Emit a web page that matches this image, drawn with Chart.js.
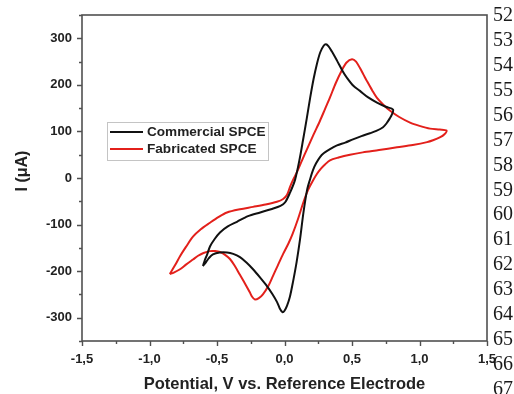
<!DOCTYPE html>
<html>
<head>
<meta charset="utf-8">
<title>CV comparison</title>
<script src="https://cdn.jsdelivr.net/npm/chart.js@4.4.0/dist/chart.umd.min.js"></script>
<style>
  html, body { margin: 0; padding: 0; background: #fff; }
  #wrap { position: relative; width: 514px; height: 394px; }
</style>
</head>
<body>
<div id="wrap"><canvas id="cvChart" width="514" height="394"></canvas></div>
<script>
// Cyclic voltammograms - potential (V) and current (uA), one closed loop each

const commercialE = [
  -0.604, -0.59, -0.574, -0.552, -0.52, -0.478, -0.42, -0.352, -0.27, -0.18, -0.1, -0.03, 0.005, 0.04,
  0.078, 0.115, 0.137, 0.165, 0.19, 0.215, 0.24, 0.265, 0.29, 0.307, 0.325, 0.35, 0.389, 0.43, 0.463,
  0.51, 0.559, 0.62, 0.685, 0.75, 0.804,
  0.795, 0.78, 0.755, 0.73, 0.68, 0.633, 0.57, 0.507, 0.45, 0.389, 0.337, 0.29, 0.263, 0.235, 0.211,
  0.19, 0.167, 0.14, 0.115, 0.09, 0.063, 0.04, 0.019, 0.0, -0.015, -0.035, -0.056, -0.09, -0.13, -0.18,
  -0.233, -0.28, -0.33, -0.38, -0.426, -0.48, -0.53, -0.56, -0.58, -0.604
];
const commercialI = [
  -189, -176, -165, -147, -132, -117, -104, -94, -82, -74, -67, -60, -52, -32,
  -4, 45, 81, 128, 172, 212, 245, 270, 284, 287, 283, 272, 252, 230, 215,
  198, 187, 173, 162, 153, 147,
  136, 128, 117, 109, 101, 96, 90, 83, 76, 70, 62, 53, 45, 32, 17,
  -2, -26, -75, -132, -180, -223, -255, -274, -285, -288, -280, -266, -249, -232, -214,
  -196, -182, -170, -163, -160, -160, -164, -172, -180, -189
];

const fabricatedE = [
  -0.85, -0.81, -0.774, -0.73, -0.678, -0.62, -0.552, -0.49, -0.426, -0.33, -0.233, -0.14, -0.056, -0.01,
  0.019, 0.041, 0.065, 0.093, 0.13, 0.167, 0.215, 0.263, 0.3, 0.337, 0.38, 0.426, 0.46, 0.5, 0.53,
  0.559, 0.585, 0.611, 0.65, 0.685, 0.73, 0.78, 0.85, 0.93, 1.0, 1.078, 1.15, 1.2,
  1.185, 1.15, 1.1, 1.056, 0.95, 0.833, 0.7, 0.58, 0.485, 0.4, 0.337, 0.3, 0.27, 0.241, 0.21,
  0.174, 0.14, 0.1, 0.06, 0.03, -0.01, -0.05, -0.085, -0.12, -0.16, -0.19, -0.219, -0.24, -0.256,
  -0.29, -0.33, -0.37, -0.404, -0.44, -0.478, -0.515, -0.552, -0.6, -0.64, -0.678, -0.73, -0.774,
  -0.82, -0.85
];
const fabricatedI = [
  -206, -187, -168, -148, -126, -110, -96, -84, -74, -67, -62, -57, -51, -45,
  -36, -19, -3, 13, 38, 62, 93, 123, 148, 173, 204, 232, 248, 255, 250,
  236, 222, 208, 188, 172, 158, 145, 131, 119, 112, 106, 104, 102,
  94, 87, 81, 77, 71, 66, 60, 55, 50, 44, 38, 29, 20, 9, -6,
  -26, -52, -88, -120, -140, -163, -188, -210, -232, -250, -258, -261, -255, -246,
  -228, -208, -188, -174, -165, -159, -157, -157, -161, -167, -175, -186, -196,
  -203, -206
];

const seriesNames = ['Commercial SPCE', 'Fabricated SPCE'];

const xTickValues = [-1.5, -1.0, -0.5, 0.0, 0.5, 1.0, 1.5];
const xTickLabels = ['-1,5', '-1,0', '-0,5', '0,0', '0,5', '1,0', '1,5'];
const yTickValues = [-300, -200, -100, 0, 100, 200, 300];
const yTickLabels = ['-300', '-200', '-100', '0', '100', '200', '300'];

// manuscript line numbers printed down the right margin
const lineNumbers = ['52', '53', '54', '55', '56', '57', '58', '59', '60', '61', '62', '63', '64', '65', '66', '67'];

const axisColor = '#505050';
const textColor = '#222';
const tickFont = { family: "'Liberation Sans', Arial, sans-serif", size: 13, weight: 'bold' };

function toPoints(xs, ys) {
  return xs.map((x, i) => ({ x: x, y: ys[i] }));
}

function labelFor(values, labels, v) {
  const i = values.findIndex(t => Math.abs(t - v) < 1e-6);
  return i >= 0 ? labels[i] : '';
}

// frame, outward ticks, y title, boxed legend and margin numbers
const decorations = {
  id: 'decorations',
  afterDatasetsDraw(chart) {
    const { ctx, chartArea: a, scales: { x, y } } = chart;
    ctx.save();

    ctx.strokeStyle = axisColor;
    ctx.lineWidth = 1.6;
    ctx.strokeRect(a.left, a.top, a.right - a.left, a.bottom - a.top);

    ctx.beginPath();
    x.ticks.forEach(t => {
      const px = Math.round(x.getPixelForValue(t.value)) + 0.5;
      const len = labelFor(xTickValues, xTickLabels, t.value) ? 5 : 3;
      ctx.moveTo(px, a.bottom);
      ctx.lineTo(px, a.bottom + len);
    });
    y.ticks.forEach(t => {
      const py = Math.round(y.getPixelForValue(t.value)) + 0.5;
      const len = labelFor(yTickValues, yTickLabels, t.value) ? 5 : 3;
      ctx.moveTo(a.left, py);
      ctx.lineTo(a.left - len, py);
    });
    ctx.lineWidth = 1.4;
    ctx.stroke();

    // y axis title
    ctx.save();
    ctx.translate(23, 171);
    ctx.rotate(-Math.PI / 2);
    ctx.fillStyle = textColor;
    ctx.font = "bold 16px 'Liberation Sans', Arial, sans-serif";
    ctx.textAlign = 'center';
    ctx.textBaseline = 'middle';
    ctx.fillText('I (\u03BCA)', 0, 0);
    ctx.restore();

    // legend box
    const lx = 107.5, ly = 122.5, lw = 161, lh = 38;
    ctx.fillStyle = '#fff';
    ctx.fillRect(lx, ly, lw, lh);
    ctx.strokeStyle = '#c4c4c4';
    ctx.lineWidth = 1;
    ctx.strokeRect(lx, ly, lw, lh);
    ctx.font = "bold 13.6px 'Liberation Sans', Arial, sans-serif";
    ctx.textAlign = 'left';
    ctx.textBaseline = 'middle';
    chart.data.datasets.forEach((ds, i) => {
      const ry = 132 + i * 17;
      ctx.strokeStyle = ds.borderColor;
      ctx.lineWidth = 2;
      ctx.beginPath();
      ctx.moveTo(110, ry);
      ctx.lineTo(143, ry);
      ctx.stroke();
      ctx.fillStyle = textColor;
      ctx.fillText(ds.label, 147, ry + 0.5);
    });

    // margin line numbers
    ctx.font = "20px 'Liberation Serif', 'Times New Roman', serif";
    ctx.fillStyle = '#1a1a1a';
    ctx.textAlign = 'left';
    lineNumbers.forEach((n, i) => {
      ctx.fillText(n, 493, 16 + i * 24.9);
    });

    ctx.restore();
  }
};

const ctx = document.getElementById('cvChart').getContext('2d');

new Chart(ctx, {
  type: 'scatter',
  data: {
    datasets: [
      {
        label: seriesNames[0],
        data: toPoints(commercialE, commercialI),
        showLine: true,
        borderColor: '#111111',
        borderWidth: 2,
        pointRadius: 0,
        tension: 0.3,
        fill: false
      },
      {
        label: seriesNames[1],
        data: toPoints(fabricatedE, fabricatedI),
        showLine: true,
        borderColor: '#e3201b',
        borderWidth: 2,
        pointRadius: 0,
        tension: 0.3,
        fill: false
      }
    ]
  },
  options: {
    responsive: false,
    animation: false,
    layout: { padding: { top: 15, right: 27, left: 0, bottom: 0 } },
    plugins: {
      legend: { display: false },
      tooltip: { enabled: false }
    },
    scales: {
      x: {
        type: 'linear',
        min: -1.5,
        max: 1.5,
        grid: { display: false, drawTicks: false },
        border: { display: false },
        ticks: {
          stepSize: 0.25,
          autoSkip: false,
          maxRotation: 0,
          padding: 11,
          color: textColor,
          font: tickFont,
          callback: v => labelFor(xTickValues, xTickLabels, v)
        },
        title: {
          display: true,
          text: 'Potential, V vs. Reference Electrode',
          color: textColor,
          font: { family: "'Liberation Sans', Arial, sans-serif", size: 16.5, weight: 'bold', lineHeight: 1.2 },
          padding: { top: 0, bottom: 0 }
        },
        afterFit: s => { s.height = 53; s.paddingLeft = 0; s.paddingRight = 0; }
      },
      y: {
        type: 'linear',
        min: -350,
        max: 350,
        grid: { display: false, drawTicks: false },
        border: { display: false },
        ticks: {
          stepSize: 50,
          autoSkip: false,
          padding: 10,
          color: textColor,
          font: tickFont,
          callback: v => labelFor(yTickValues, yTickLabels, v)
        },
        afterFit: s => { s.width = 82; s.paddingTop = 0; s.paddingBottom = 0; }
      }
    }
  },
  plugins: [decorations]
});
</script>
</body>
</html>
